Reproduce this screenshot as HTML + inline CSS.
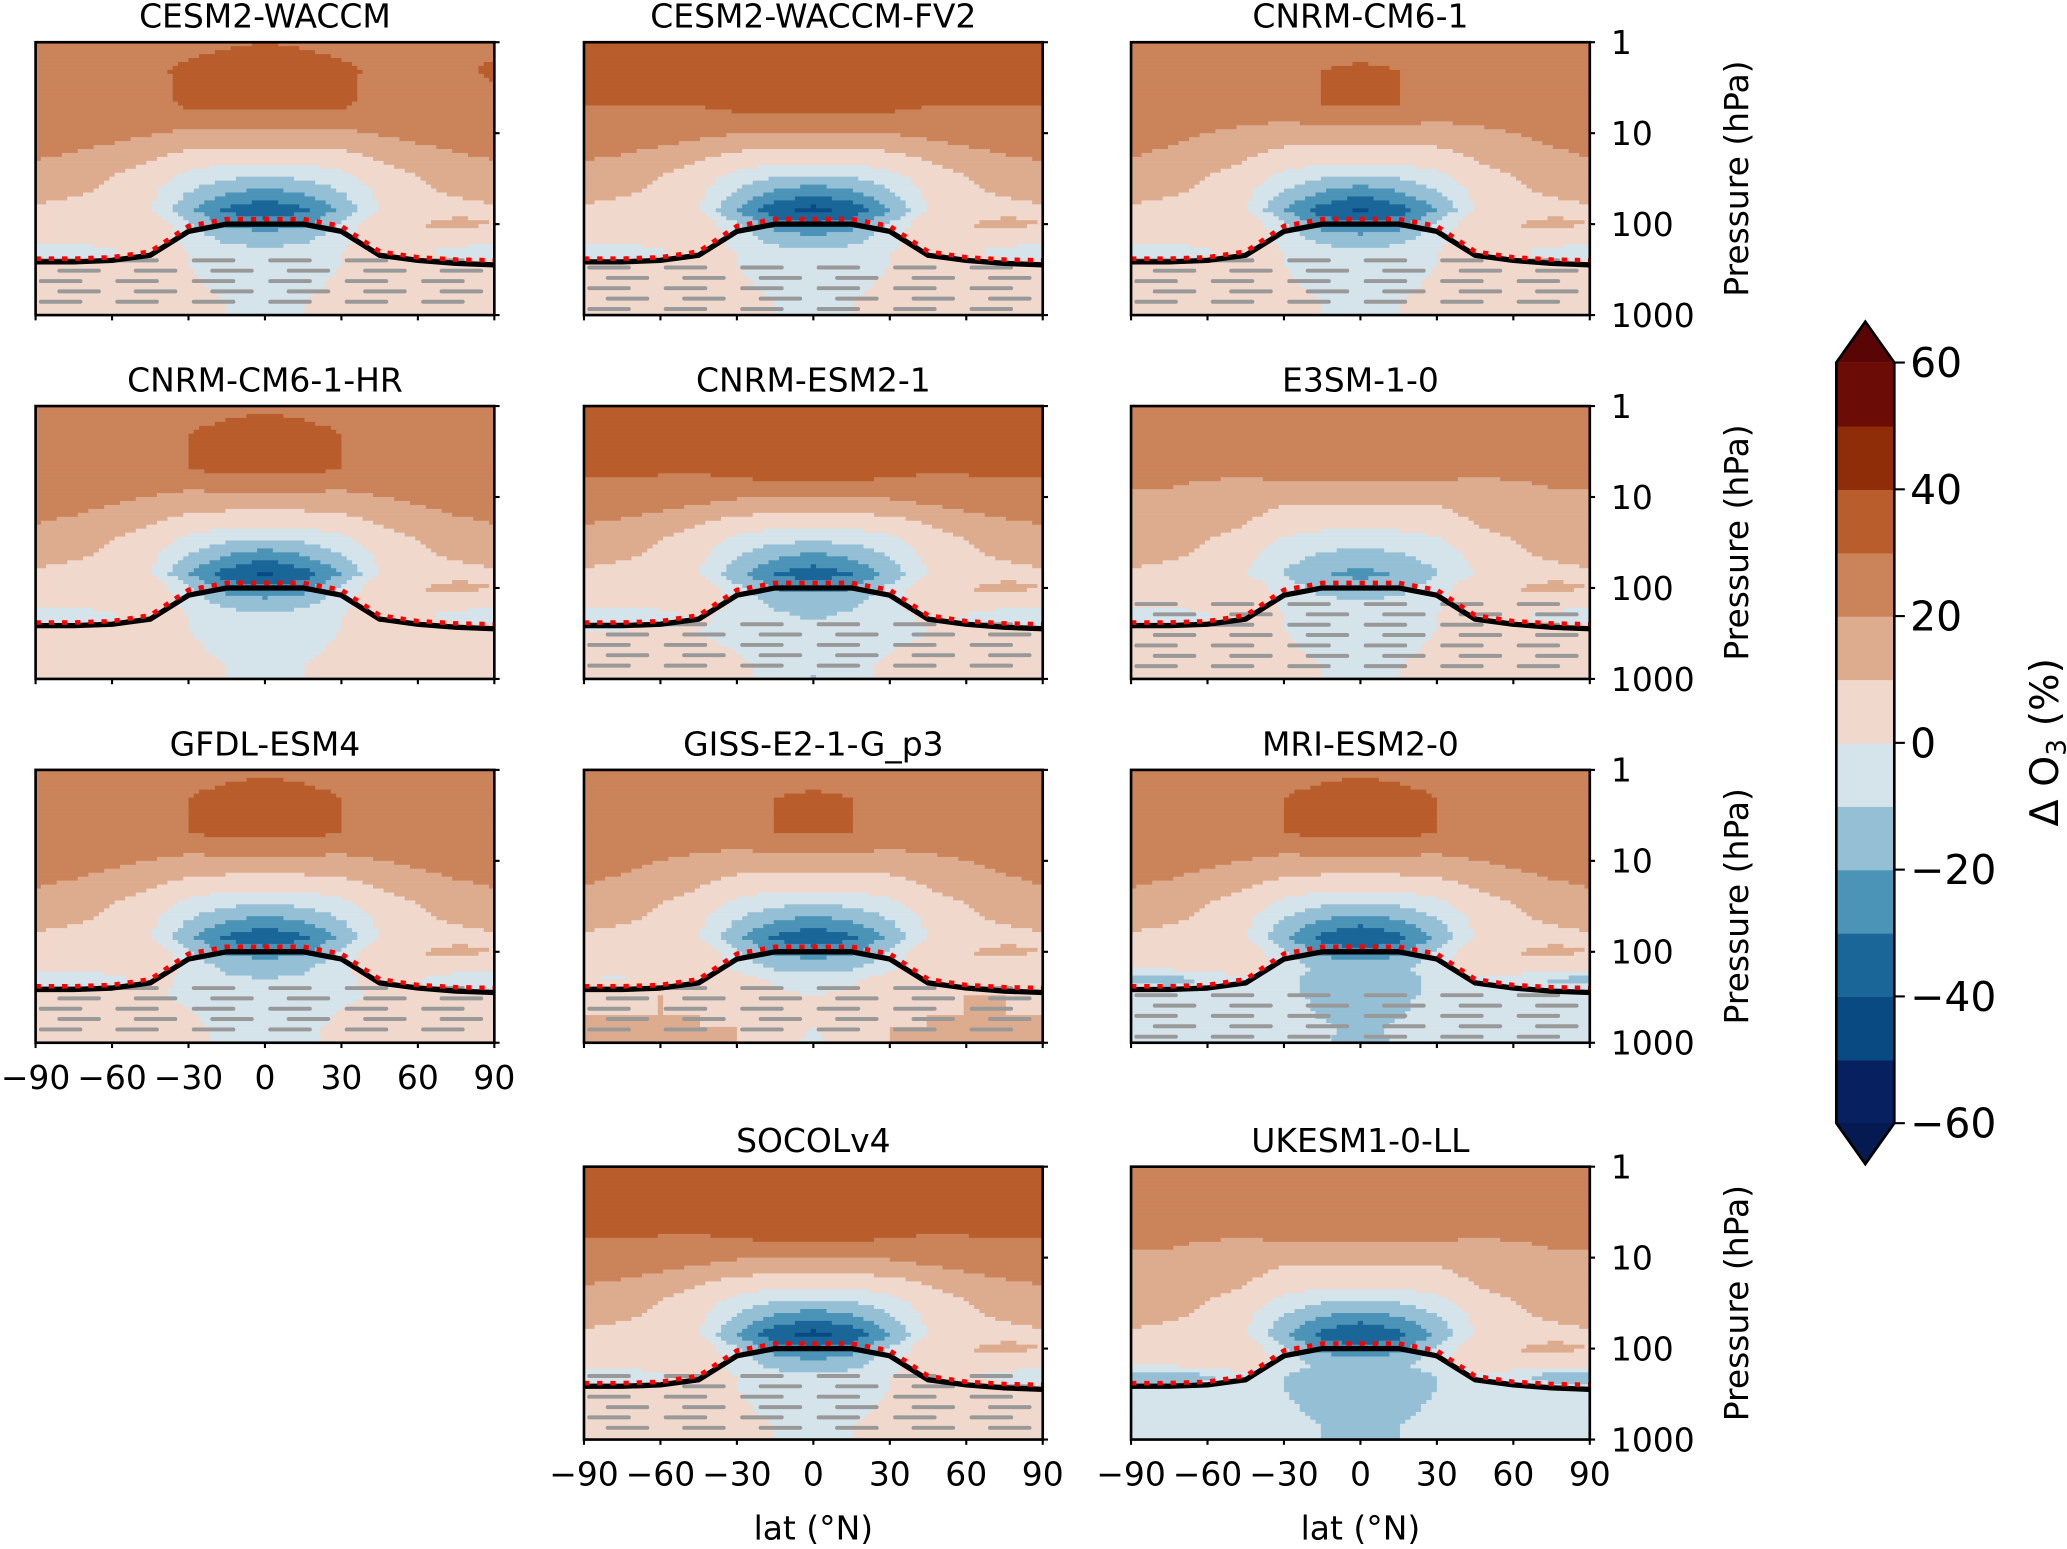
<!DOCTYPE html>
<html><head><meta charset="utf-8"><style>
html,body{margin:0;padding:0;background:#fff}
svg{display:block}
text{font-family:"DejaVu Sans","Liberation Sans",sans-serif;fill:#000}
</style></head><body>
<svg id="fig" width="2067" height="1549" viewBox="0 0 1568 1175" xmlns="http://www.w3.org/2000/svg"></svg>
<script>
// ---- data ----
const models = ["CESM2-WACCM","CESM2-WACCM-FV2","CNRM-CM6-1","CNRM-CM6-1-HR","CNRM-ESM2-1","E3SM-1-0","GFDL-ESM4","GISS-E2-1-G_p3","MRI-ESM2-0","SOCOLv4","UKESM1-0-LL"];
const gridRow = [0,0,0,1,1,1,2,2,2,3,3];
const gridCol = [0,1,2,0,1,2,0,1,2,1,2];
const topOffset = [3,5,0,2,6,-3,2,0,2,6,-3];
const troposOffset = [0,0,0,0,-3,0,-2,5,-8,0,-10];
const ozoneHoleScale = [1.0,1.15,1.1,1.1,0.95,0.6,1.0,1.0,1.05,1.15,1.05];
const stippleFrom = [250,300,250,null,250,150,250,250,300,200,null];
const lats = [-90,-75,-60,-45,-30,-15,0,15,30,45,60,75,90];
const plevs = [1,2,5,10,20,30,50,70,100,150,200,300,500,700,1000];
const baseField = [
 [25,25,25,25,25,26,27,26,25,25,25,25,25],
 [25,25,25,26,28,30,31,30,28,26,25,26,28],
 [25,25,25,25,28,30,30,30,28,25,25,25,25],
 [22,22,20,18,15,15,15,15,15,18,20,22,22],
 [20,18,15,10,5,3,3,3,5,10,15,18,20],
 [15,15,10,5,-3,-8,-10,-8,-3,5,10,15,15],
 [12,10,8,2,-12,-22,-28,-22,-12,2,8,10,12],
 [8,8,5,0,-18,-32,-38,-32,-18,0,5,8,8],
 [5,5,6,8,-8,-22,-25,-22,-8,8,10,12,10],
 [2,2,6,8,-3,-12,-14,-12,-3,8,8,5,3],
 [-5,-6,-2,5,0,-6,-8,-6,0,5,2,-4,-5],
 [4,4,5,3,0,-4,-5,-4,0,3,5,5,4],
 [5,5,5,5,3,-3,-5,-3,3,5,5,5,5],
 [5,5,5,5,5,0,-5,0,5,5,5,5,5],
 [5,5,5,5,5,0,-8,0,5,5,5,5,5]
];
const tropBlack = [260,260,250,220,120,100,100,100,120,220,250,270,280];
const tropRed = [240,240,232,200,105,88,88,88,105,200,232,245,250];
const xTicks = [-90,-60,-30,0,30,60,90];
const pTicks = [1,10,100,1000];
const cbLevels = [-60,-50,-40,-30,-20,-10,0,10,20,30,40,50,60];
const cbColors = ["#062060","#0a4a82","#1a6699","#4b93b7","#94bfd4","#d5e3ea","#f0d8cc","#ddab8e","#cb835a","#b85d2b","#8e2d08","#6b0d06"];
const cbTicks = [60,40,20,0,-20,-40,-60];

// ---- layout ----
const NS="http://www.w3.org/2000/svg";
const svg=document.getElementById('fig');
const colX=[27,443,858], rowY=[32,308,584,885], PW=348, PH=207;
function mk(tag,attrs,parent){const e=document.createElementNS(NS,tag);for(const k in attrs)e.setAttribute(k,attrs[k]);(parent||svg).appendChild(e);return e;}
function colorFor(v){if(v<-60)return "#051a50";if(v>=60)return "#5a0505";let i=Math.floor((v+60)/10);return cbColors[Math.max(0,Math.min(11,i))];}
function field(m,li,pi){
  let v=baseField[pi][li];
  const p=plevs[pi];
  if(v<0 && p<=150 && p>=20) v*=ozoneHoleScale[m];
  if(p<=10) v+=topOffset[m];
  if(p>=200) v+=troposOffset[m];
  return v;
}
function interp(m,fx,fy){
  const lat=-90+180*fx, lp=3*fy;
  let li=Math.min(11,Math.floor((lat+90)/15)); let tx=(lat-lats[li])/15;
  let pi=0; while(pi<plevs.length-2 && Math.log10(plevs[pi+1])<lp) pi++;
  const l0=Math.log10(plevs[pi]), l1=Math.log10(plevs[pi+1]);
  let ty=Math.max(0,Math.min(1,(lp-l0)/(l1-l0)));
  const a=field(m,li,pi),b=field(m,li+1,pi),c=field(m,li,pi+1),d=field(m,li+1,pi+1);
  return (a*(1-tx)+b*tx)*(1-ty)+(c*(1-tx)+d*tx)*ty;
}
function panel(m){
  const x0=colX[gridCol[m]], y0=rowY[gridRow[m]];
  const g=mk('g',{});
  
  
  const xs=v=>x0+(v+90)/180*PW;
  const ys=p=>y0+Math.log10(p)/3*PH;
  const NX=87, NY=69, cw=PW/NX, ch=PH/NY;
  for(let j=0;j<NY;j++){
    let start=0, cur=colorFor(interp(m,0.5/NX,(j+0.5)/NY));
    for(let i=1;i<=NX;i++){
      const c = i<NX ? colorFor(interp(m,(i+0.5)/NX,(j+0.5)/NY)) : null;
      if(c!==cur){
        mk('rect',{x:(x0+start*cw).toFixed(2),y:(y0+j*ch).toFixed(2),width:((i-start)*cw+0.6).toFixed(2),height:(ch+0.6).toFixed(2),fill:cur},g);
        start=i; cur=c;
      }
    }
  }
  if(stippleFrom[m]!==null){
    let k=0;
    for(let p=stippleFrom[m]; p<=1000; p*=1.3){
      const y=ys(p);
      if(y>y0+PH-3) break;
      const s=mk('line',{x1:x0+4+(k%2)*14,x2:x0+PW-4,y1:y.toFixed(1),y2:y.toFixed(1),stroke:'#999',"stroke-width":3,"stroke-dasharray":"30 28","stroke-linecap":"round"},g);
      
      
      k++;
    }
  }
  const bl=mk('polyline',{points:lats.map((l,i)=>xs(l).toFixed(1)+','+ys(tropBlack[i]).toFixed(1)).join(' '),fill:'none',stroke:'#000',"stroke-width":4,"stroke-linejoin":"round"},g);
  
  
  const rl=mk('polyline',{points:lats.map((l,i)=>xs(l).toFixed(1)+','+ys(tropRed[i]).toFixed(1)).join(' '),fill:'none',stroke:'#f00',"stroke-width":3.5,"stroke-dasharray":"4 6"},g);
  
  
  mk('rect',{x:x0,y:y0,width:PW,height:PH,fill:'none',stroke:'#000',"stroke-width":2},g);
  xTicks.forEach(t=>mk('line',{x1:xs(t),x2:xs(t),y1:y0+PH,y2:y0+PH+4,stroke:'#000',"stroke-width":1.6},g));
  pTicks.forEach(p=>mk('line',{x1:x0+PW,x2:x0+PW+4,y1:ys(p),y2:ys(p),stroke:'#000',"stroke-width":1.6},g));
  const t=mk('text',{x:x0+PW/2,y:y0-11,"text-anchor":"middle","font-size":25},g);
  t.textContent=models[m];
  
  
  if(gridCol[m]===2){
    pTicks.forEach(p=>{const tt=mk('text',{x:x0+PW+16,y:ys(p)+9,"font-size":25},g);tt.textContent=p;
      
      });
    const yl=mk('text',{x:0,y:0,transform:`translate(${x0+PW+120},${y0+PH/2}) rotate(-90)`,"text-anchor":"middle","font-size":25},g);
    yl.textContent='Pressure (hPa)';
    
    
  }
  if(gridRow[m]===3 || m===6){
    xTicks.forEach(v=>{const tt=mk('text',{x:xs(v),y:y0+PH+35,"text-anchor":"middle","font-size":25},g);tt.textContent=(v<0?'\u2212'+(-v):v);
      
      });
  }
  if(gridRow[m]===3){
    const xl=mk('text',{x:x0+PW/2,y:y0+PH+76,"text-anchor":"middle","font-size":25},g);
    xl.textContent='lat (\u00b0N)';
    
    
  }
}
models.forEach((_,m)=>panel(m));

const cb=mk('g',{});


const cbx=1393, cbw=44, cbTop=275, cbBot=852;
const cy=v=>cbBot-(v+60)/120*(cbBot-cbTop);
cbColors.forEach((c,i)=>mk('rect',{x:cbx,y:cy(cbLevels[i+1]),width:cbw,height:cy(cbLevels[i])-cy(cbLevels[i+1])+0.5,fill:c},cb));
mk('polygon',{points:`${cbx},${cbTop} ${cbx+cbw/2},${cbTop-31} ${cbx+cbw},${cbTop}`,fill:'#5a0505'},cb);
mk('polygon',{points:`${cbx},${cbBot} ${cbx+cbw/2},${cbBot+31} ${cbx+cbw},${cbBot}`,fill:'#051a50'},cb);
mk('polygon',{points:`${cbx},${cbTop} ${cbx+cbw/2},${cbTop-31} ${cbx+cbw},${cbTop} ${cbx+cbw},${cbBot} ${cbx+cbw/2},${cbBot+31} ${cbx},${cbBot}`,fill:'none',stroke:'#000',"stroke-width":2},cb);
cbTicks.forEach(v=>{
  mk('line',{x1:cbx+cbw,x2:cbx+cbw+8,y1:cy(v),y2:cy(v),stroke:'#000',"stroke-width":1.6},cb);
  const t=mk('text',{x:cbx+cbw+12,y:cy(v)+11,"font-size":31},cb);
  t.textContent=v<0?'\u2212'+(-v):v;
  
  
});
const cl=mk('text',{x:0,y:0,transform:'translate(1561,563) rotate(-90)',"text-anchor":"middle","font-size":30},cb);
cl.innerHTML='\u0394 O<tspan font-size="20" dy="6">3</tspan><tspan dy="-6"> (%)</tspan>';


</script>
</body></html>
